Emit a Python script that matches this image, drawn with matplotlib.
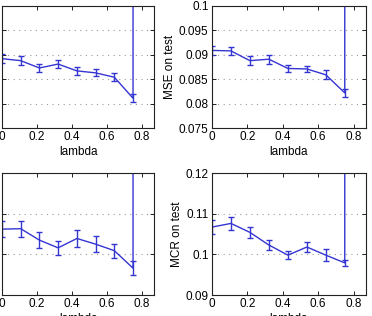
import numpy as np
import matplotlib
matplotlib.use('Agg')
import matplotlib.pyplot as plt

plt.rcParams['font.family'] = ['Liberation Sans', 'DejaVu Sans']
plt.rcParams['font.size'] = 8.5

# lambda values (last point blows up)
lam = [0, 0.107, 0.214, 0.321, 0.429, 0.536, 0.643, 0.75, 0.75]

mse_train = [0.0842, 0.0838, 0.0823, 0.0831, 0.0817, 0.0813, 0.0804, 0.0761, 1.0]
mse_train_err = [0.0009, 0.0009, 0.0009, 0.0009, 0.0008, 0.0007, 0.0008, 0.0008, 0]
mse_test = [0.0909, 0.0908, 0.0888, 0.0891, 0.0872, 0.0871, 0.0859, 0.0822, 1.0]
mse_test_err = [0.001, 0.0009, 0.0009, 0.0009, 0.0007, 0.0007, 0.0009, 0.0008, 0]
mcr_train = [0.1062, 0.1063, 0.1035, 0.1016, 0.1039, 0.1025, 0.1009, 0.0966, 1.0]
mcr_train_err = [0.002, 0.002, 0.002, 0.0018, 0.0021, 0.002, 0.0017, 0.0017, 0]
mcr_test = [0.1067, 0.1076, 0.1054, 0.1023, 0.0998, 0.1018, 0.0998, 0.0979, 1.0]
mcr_test_err = [0.0017, 0.0016, 0.0014, 0.0013, 0.001, 0.0012, 0.0014, 0.0008, 0]

W, H = 372, 316
fig = plt.figure(figsize=(W/100, H/100), dpi=100)

def ax_at(x0, y0, x1, y1):
    return fig.add_axes([x0/W, 1 - y1/H, (x1-x0)/W, (y1-y0)/H])

# left column: y tick labels fall outside the cropped picture
panels = [
    (ax_at(2, 6, 154, 128), mse_train, mse_train_err, (0.07, 0.095), 0.005, '', False),
    (ax_at(212, 6, 366, 128), mse_test, mse_test_err, (0.075, 0.1), 0.005, 'MSE on test', True),
    (ax_at(2, 173, 154, 295), mcr_train, mcr_train_err, (0.09, 0.12), 0.01, '', False),
    (ax_at(212, 173, 366, 295), mcr_test, mcr_test_err, (0.09, 0.12), 0.01, 'MCR on test', True),
]

col = '#3535d2'
for ax, y, e, yl, step, ylab, show_y in panels:
    ax.errorbar(lam, y, yerr=e, color=col, lw=1, elinewidth=1, capsize=2, capthick=1)
    ax.set_xlim(0, 0.87)
    ax.set_ylim(*yl)
    ax.set_xticks([0, 0.2, 0.4, 0.6, 0.8])
    ax.set_xticklabels(['0', '0.2', '0.4', '0.6', '0.8'])
    ax.set_yticks(np.arange(yl[0], yl[1] + step/2, step))
    ax.yaxis.set_major_formatter(matplotlib.ticker.FuncFormatter(lambda v, p: ('%g' % round(v, 4))))
    ax.yaxis.grid(True, ls=(0, (1, 4)), color='#999999', lw=0.8)
    ax.tick_params(direction='in', top=True, right=True, length=3, width=0.6, labelsize=8.5, pad=2.5)
    ax.tick_params(axis='y', labelleft=show_y)
    for s in ax.spines.values():
        s.set_linewidth(0.8)
        s.set_color('#222222')
    ax.set_xlabel('lambda', fontsize=8.5, labelpad=2)
    if ylab:
        ax.set_ylabel(ylab, fontsize=8.5, labelpad=2)

fig.savefig('out.png', dpi=100)
